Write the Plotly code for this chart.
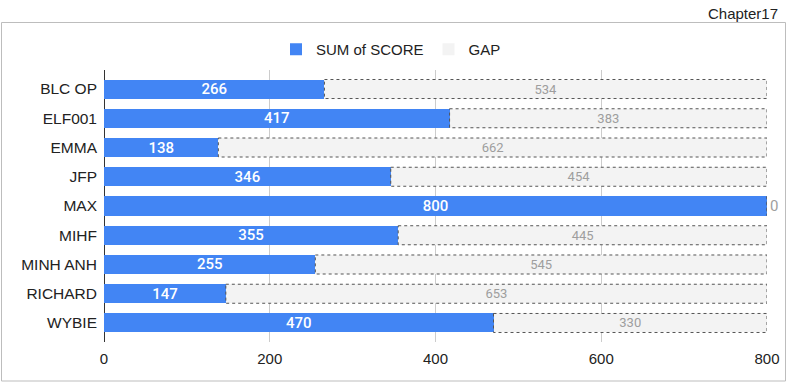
import plotly.graph_objects as go

names = ["BLC OP", "ELF001", "EMMA", "JFP", "MAX", "MIHF", "MINH ANH", "RICHARD", "WYBIE"]
score = [266, 417, 138, 346, 800, 355, 255, 147, 470]
gap = [534, 383, 662, 454, 0, 445, 545, 653, 330]
x_ticks = [0, 200, 400, 600, 800]

BLUE = "#4285f4"
GAPFILL = "#f3f3f3"
LABEL_FONT = "Arial, Liberation Sans, sans-serif"

fig = go.Figure()
fig.add_trace(go.Bar(
    y=names, x=score, orientation="h", name="SUM of SCORE",
    marker=dict(color=BLUE, line=dict(width=0)),
    text=[str(v) for v in score], textposition="inside", insidetextanchor="middle",
    textangle=0, constraintext="none",
    textfont=dict(family="Roboto", size=15, color="white", weight=500),
    hoverinfo="skip",
))
fig.add_trace(go.Bar(
    y=names, x=gap, orientation="h", name="GAP",
    marker=dict(color=GAPFILL, line=dict(width=0)),
    text=[str(v) for v in gap],
    textposition=["outside" if v == 0 else "inside" for v in gap],
    insidetextanchor="middle", textangle=0, constraintext="none",
    textfont=dict(family="Roboto", size=13, color="#9e9e9e"),
    outsidetextfont=dict(family="Roboto", size=15, color="#9e9e9e"),
    cliponaxis=False, hoverinfo="skip",
))

# dotted outlines around gap segments (derived from data)
half = 0.325
shapes = []
for i, (s, g) in enumerate(zip(score, gap)):
    shapes.append(dict(type="rect", xref="x", yref="y",
                       x0=s, x1=s + g, y0=i - half, y1=i + half,
                       line=dict(color="#555555", width=1, dash="dot"),
                       fillcolor="rgba(0,0,0,0)", layer="above"))

# chart outer border
L, R, T, B = 104, 21, 70, 43
W, H = 788, 385
pw, ph = W - L - R, H - T - B
shapes.append(dict(type="rect", xref="paper", yref="paper",
                   x0=(1.5 - L) / pw, x1=(785.5 - L) / pw,
                   y0=(H - B - 381) / ph, y1=(H - B - 22.5) / ph,
                   line=dict(color="#bdbdbd", width=1), fillcolor="rgba(0,0,0,0)",
                   layer="below"))

fig.update_layout(
    width=W, height=H, barmode="stack", bargap=0.35,
    margin=dict(l=L, r=R, t=T, b=B, autoexpand=False),
    paper_bgcolor="white", plot_bgcolor="white",
    font=dict(family=LABEL_FONT, size=15, color="#222222"),
    shapes=shapes,
    legend=dict(orientation="h", x=(391 - L) / pw, xanchor="center",
                y=(H - B - 49.5) / ph, yanchor="middle",
                font=dict(family=LABEL_FONT, size=15, color="#222222"),
                traceorder="normal", itemclick=False),
    xaxis=dict(range=[0, 800], tickvals=x_ticks, ticktext=[str(v) for v in x_ticks],
               showgrid=True, gridcolor="#cccccc", gridwidth=1,
               zeroline=True, zerolinecolor="#333333", zerolinewidth=1,
               showline=False, ticks="", ticklabelstandoff=6,
               tickfont=dict(family=LABEL_FONT, size=15, color="#222222")),
    yaxis=dict(categoryorder="array", categoryarray=names,
               range=[8.65, -0.65], showgrid=False, zeroline=False,
               ticks="", ticklabelstandoff=6,
               tickfont=dict(family=LABEL_FONT, size=15.5, color="#222222")),
    annotations=[dict(text="Chapter17", xref="paper", yref="paper",
                      x=(780 - L) / pw, y=(H - B - 13) / ph,
                      xanchor="right", yanchor="middle", showarrow=False,
                      font=dict(family=LABEL_FONT, size=15, color="#222222"))],
)

fig.write_html("out.html", config={"displayModeBar": False},
               post_script="document.body.style.margin='0';document.body.style.overflow='hidden';")
